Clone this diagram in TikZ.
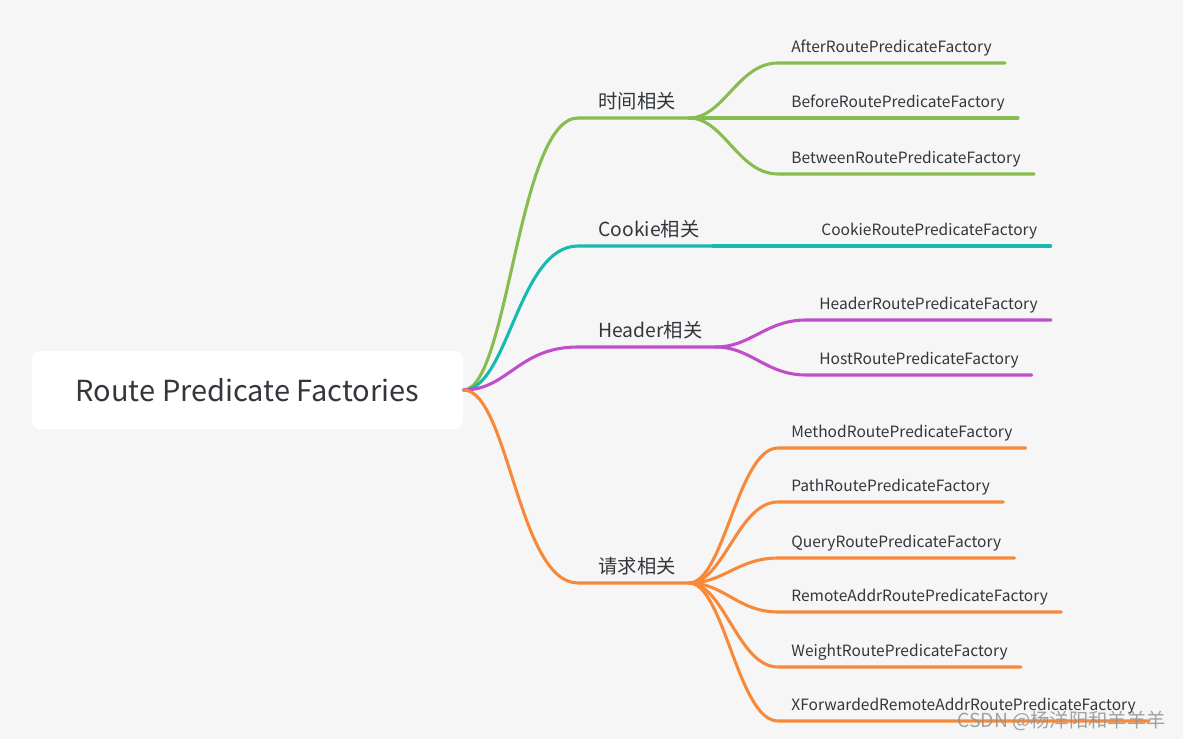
\documentclass[tikz,border=0pt]{standalone}
\usepackage{fontspec}
\setmainfont{Noto Sans CJK SC}
\usepackage{xcolor}
\usepackage{tikz}
\usetikzlibrary{positioning}
\definecolor{paper}{HTML}{F6F6F6}
\definecolor{ink}{HTML}{33363B}
\definecolor{timegreen}{HTML}{86BC50}
\definecolor{cookieteal}{HTML}{17BAB0}
\definecolor{headerpurple}{HTML}{C04ECB}
\definecolor{requestorange}{HTML}{F68A3A}

\begin{document}
\begin{tikzpicture}[x=0.02cm, y=-0.02cm,
                    every node/.append style = {text = ink, inner sep = 0pt},
                    topic/.style = {anchor = south west, inner xsep = 0.26cm, inner ysep = 0.18cm, text depth = 0pt,
                                    font = \fontsize{11}{13}\selectfont},
                    leaf/.style = {anchor = south west, inner xsep = 0.26cm, inner ysep = 0.2cm, text depth = 0pt,
                                   font = \fontsize{8.85}{10}\selectfont},
                    branch/.style = {line width = 1.75pt, line cap = round}]
                \fill[paper] (0,0) rectangle (1183,739);
                \node[fill = white, rounded corners = 0.16cm, minimum width = 8.62cm, minimum height = 1.56cm,
                      font = \fontsize{16.5}{20}\selectfont] (root) at (247.5,390) {Route Predicate Factories};
                \node[topic] (time) at (585,118) {时间相关};
                \node[topic] (cookie) at (585,246) {Cookie相关};
                \node[topic] (header) at (585,347) {Header相关};
                \node[topic] (request) at (585,583) {请求相关};
                \draw[branch, timegreen] (root.east) .. controls +(45,0) and +(-60,0) .. (578,118) -- (time.south east);
                \draw[branch, cookieteal] (root.east) .. controls +(45,0) and +(-60,0) .. (578,246) -- (cookie.south east);
                \draw[branch, headerpurple] (root.east) .. controls +(45,0) and +(-60,0) .. (578,347) -- (header.south east);
                \draw[branch, requestorange] (root.east) .. controls +(45,0) and +(-60,0) .. (578,583) -- (request.south east);
                \foreach \name/\y in {After/63, Before/118, Between/174} {
                    \node[leaf] (\name) at (778,\y) {\name RoutePredicateFactory};
                    \draw[branch, timegreen] (time.south east) .. controls +(35,0) and +(-40,0) .. (\name.south west) -- (\name.south east);
                }
                \node[leaf] (CookieFactory) at (808,246) {CookieRoutePredicateFactory};
                \draw[branch, cookieteal] (cookie.south east) -- (CookieFactory.south east);
                \foreach \name/\y in {Header/320, Host/375} {
                    \node[leaf] (\name Factory) at (806,\y) {\name RoutePredicateFactory};
                    \draw[branch, headerpurple] (header.south east) .. controls +(35,0) and +(-40,0) .. (\name Factory.south west) -- (\name Factory.south east);
                }
                \foreach \name/\y in {Method/448, Path/502, Query/558, RemoteAddr/612, Weight/667, XForwardedRemoteAddr/721} {
                    \node[leaf] (\name) at (778,\y) {\name RoutePredicateFactory};
                    \draw[branch, requestorange] (request.south east) .. controls +(35,0) and +(-40,0) .. (\name.south west) -- (\name.south east);
                }
                \node[anchor = base west, text = gray!85, opacity = 0.85, font = \fontsize{11}{13}\selectfont] (mark) at (957,727) {CSDN @杨洋阳和羊羊羊};
                \end{tikzpicture}
\end{document}
